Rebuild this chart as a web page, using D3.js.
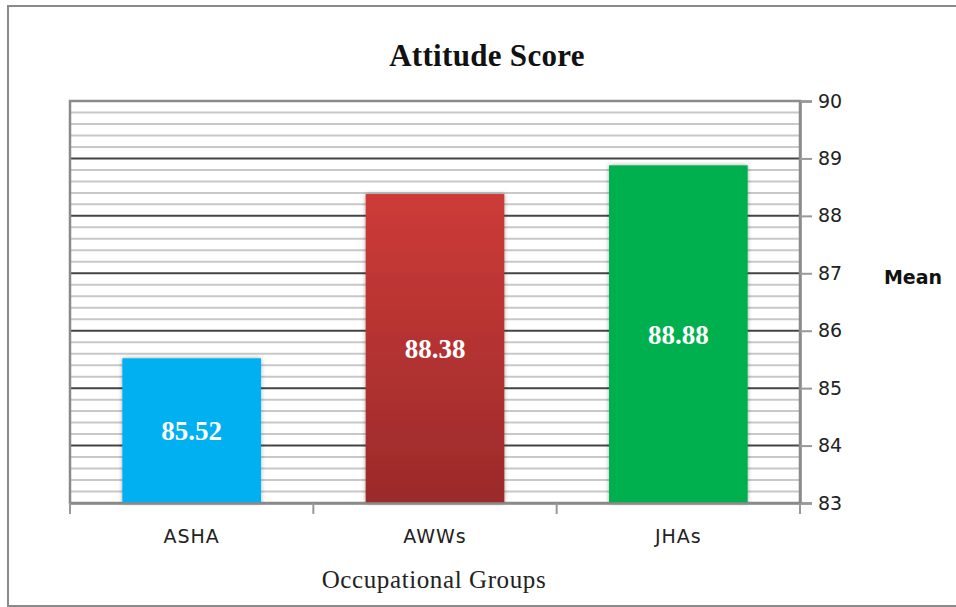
<!DOCTYPE html>
<html>
<head>
<meta charset="utf-8">
<script src="https://cdn.jsdelivr.net/npm/d3@7"></script>
<style>
  html, body { margin: 0; padding: 0; background: #fff; }
  svg { display: block; }
</style>
</head>
<body>
<svg id="chart" width="956" height="607"></svg>
<script>
const categories = ["ASHA", "AWWs", "JHAs"];
const values = [85.52, 88.38, 88.88];
const valueLabels = ["85.52", "88.38", "88.88"];
const yTicks = [83, 84, 85, 86, 87, 88, 89, 90];
const title = "Attitude Score";
const xTitle = "Occupational Groups";
const yTitle = "Mean";

const svg = d3.select("#chart");
const L = 70, R = 800, T = 101, B = 503;

// outer border
svg.append("rect").attr("x", 8).attr("y", 6).attr("width", 952).attr("height", 600)
  .attr("fill", "#fff").attr("stroke", "#8a8a8a").attr("stroke-width", 2);

const defs = svg.append("defs");
const grad = defs.append("linearGradient").attr("id", "redGrad")
  .attr("x1", 0).attr("y1", 0).attr("x2", 0).attr("y2", 1);
grad.append("stop").attr("offset", "0%").attr("stop-color", "#cd3b38");
grad.append("stop").attr("offset", "100%").attr("stop-color", "#9b2a2a");
const shadow = defs.append("filter").attr("id", "shadow")
  .attr("x", "-10%").attr("y", "-10%").attr("width", "120%").attr("height", "120%");
shadow.append("feDropShadow").attr("dx", 0).attr("dy", 0).attr("stdDeviation", 2)
  .attr("flood-color", "#000").attr("flood-opacity", 0.35);

const fills = ["#00b0f0", "url(#redGrad)", "#00b050"];

const x = d3.scaleBand().domain(categories).range([L, R]).paddingInner(0.43).paddingOuter(0.215);
const y = d3.scaleLinear().domain([83, 90]).range([B, T]);

// minor gridlines
const minor = d3.range(83, 90.001, 0.2).filter(v => Math.abs(v - Math.round(v)) > 0.01);
svg.append("g").selectAll("line").data(minor).join("line")
  .attr("x1", L).attr("x2", R).attr("y1", d => y(d)).attr("y2", d => y(d))
  .attr("stroke", "#c8c8c8").attr("stroke-width", 2);
// major gridlines
svg.append("g").selectAll("line").data(yTicks.filter(v => v > 83 && v < 90)).join("line")
  .attr("x1", L).attr("x2", R).attr("y1", d => y(d)).attr("y2", d => y(d))
  .attr("stroke", "#454545").attr("stroke-width", 2);

// plot frame
svg.append("rect").attr("x", L).attr("y", T).attr("width", R - L).attr("height", B - T)
  .attr("fill", "none").attr("stroke", "#8a8a8a").attr("stroke-width", 2.5);

// bars
svg.append("g").selectAll("rect").data(values).join("rect")
  .attr("x", (d, i) => x(categories[i]))
  .attr("y", d => y(d))
  .attr("width", x.bandwidth())
  .attr("height", d => y(83) - y(d))
  .attr("fill", (d, i) => fills[i])
  .attr("filter", "url(#shadow)");

// bar labels (centered vertically in bar)
svg.append("g").selectAll("text").data(values).join("text")
  .attr("x", (d, i) => x(categories[i]) + x.bandwidth() / 2)
  .attr("y", d => (y(d) + y(83)) / 2)
  .attr("dy", "0.35em")
  .attr("text-anchor", "middle")
  .attr("font-family", "Liberation Serif, Times New Roman, serif")
  .attr("font-weight", "bold").attr("font-size", 27).attr("fill", "#fff")
  .text((d, i) => valueLabels[i]);

// y axis on the right
const yAxis = d3.axisRight(y).tickValues(yTicks).tickSize(12).tickPadding(6).tickFormat(d3.format("d"));
const gy = svg.append("g").attr("transform", `translate(${R},0)`).call(yAxis);
gy.select(".domain").attr("stroke", "#8a8a8a").attr("stroke-width", 2.5);
gy.selectAll(".tick line").attr("stroke", "#999").attr("stroke-width", 2);
gy.selectAll(".tick text").attr("font-family", "DejaVu Sans, sans-serif").attr("font-size", 19).attr("fill", "#222");

// x axis
const xAxis = d3.axisBottom(x).tickSize(0).tickPadding(27);
const gx = svg.append("g").attr("transform", `translate(0,${B})`).call(xAxis);
gx.select(".domain").attr("stroke", "#8a8a8a").attr("stroke-width", 2.5);
gx.selectAll(".tick text").attr("font-family", "DejaVu Sans, sans-serif").attr("font-size", 19).attr("fill", "#222")
  .attr("letter-spacing", 1);
// band boundary ticks
const bounds = [L].concat(categories.map(c => x(c) + x.bandwidth() + x.step() * x.paddingInner() / 2));
bounds[bounds.length - 1] = R;
svg.append("g").selectAll("line").data(bounds).join("line")
  .attr("x1", d => d).attr("x2", d => d).attr("y1", B).attr("y2", B + 11)
  .attr("stroke", "#999").attr("stroke-width", 2);

// titles
svg.append("text").attr("x", 487).attr("y", 66).attr("text-anchor", "middle")
  .attr("font-family", "Liberation Serif, Times New Roman, serif").attr("font-weight", "bold")
  .attr("font-size", 31).attr("fill", "#111").attr("letter-spacing", 0.3).text(title);
svg.append("text").attr("x", 913).attr("y", 284).attr("text-anchor", "middle")
  .attr("font-family", "DejaVu Sans, sans-serif").attr("font-weight", "bold")
  .attr("font-size", 19).attr("fill", "#111").text(yTitle);
svg.append("text").attr("x", 434).attr("y", 588).attr("text-anchor", "middle")
  .attr("font-family", "Liberation Serif, Times New Roman, serif")
  .attr("font-size", 25).attr("fill", "#222").attr("letter-spacing", 0.6).text(xTitle);
</script>
</body>
</html>
